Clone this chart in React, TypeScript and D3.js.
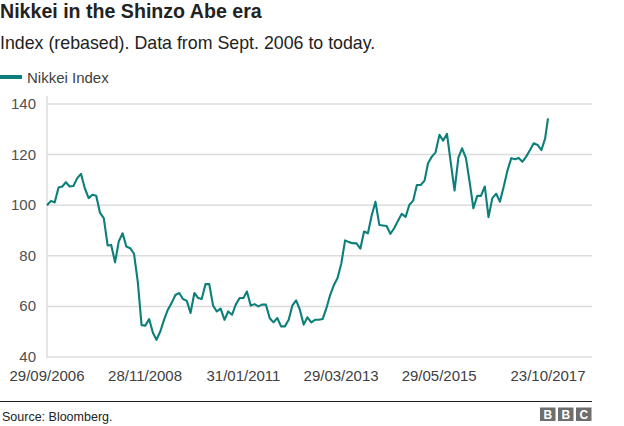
import React from "react";
import * as d3 from "d3";

const title = "Nikkei in the Shinzo Abe era";
const subtitle = "Index (rebased). Data from Sept. 2006 to today.";
const seriesName = "Nikkei Index";
const source = "Source: Bloomberg.";

// Monthly index values, Sept 2006 .. Oct 2017 (rebased to 100)
const nikkeiValues: number[] = [
  100.0, 101.7, 101.1, 107.0, 107.4, 109.1, 107.4, 107.6, 110.7, 112.4,
  106.7, 102.8, 104.1, 103.7, 97.1, 94.9, 84.1, 84.3, 77.4, 85.7,
  88.9, 83.7, 83.0, 80.8, 69.9, 52.6, 52.4, 55.0, 49.5, 46.8,
  50.1, 54.7, 58.7, 61.3, 64.5, 65.3, 62.9, 62.2, 57.4, 65.3,
  63.3, 62.9, 68.8, 68.8, 60.3, 58.0, 59.1, 54.7, 58.0, 56.7,
  60.7, 63.3, 63.3, 65.9, 60.3, 60.9, 60.0, 60.7, 60.7, 55.3,
  53.7, 55.4, 52.1, 52.1, 54.7, 60.3, 62.4, 58.7, 52.8, 55.7,
  53.7, 54.7, 54.7, 55.0, 59.3, 64.6, 68.6, 71.2, 77.1, 86.1,
  85.4, 85.0, 84.9, 82.8, 89.6, 88.9, 95.8, 101.4, 92.2, 92.0,
  91.8, 88.7, 90.9, 93.8, 96.6, 95.4, 100.1, 101.8, 108.0, 108.0,
  109.7, 116.6, 119.2, 120.9, 127.8, 125.5, 128.2, 116.6, 105.8, 118.8,
  122.5, 118.6, 108.7, 98.8, 103.7, 103.7, 107.4, 95.3, 102.8, 104.5,
  101.4, 107.4, 113.7, 118.6, 118.2, 118.7, 117.2, 119.2, 121.8, 124.5,
  123.8, 121.8, 126.4, 134.3,
];

const firstDate = new Date(2006, 8, 29);
const lastDate = new Date(2017, 9, 23);

// x tick dates and labels
const tickDates: Date[] = [
  new Date(2006, 8, 29),
  new Date(2008, 10, 28),
  new Date(2011, 0, 31),
  new Date(2013, 2, 29),
  new Date(2015, 4, 29),
  new Date(2017, 9, 23),
];
const tickLabels = ["29/09/2006", "28/11/2008", "31/01/2011", "29/03/2013", "29/05/2015", "23/10/2017"];
const yTicks = [40, 60, 80, 100, 120, 140];

const dates: Date[] = nikkeiValues.map((_, i) => {
  if (i === 0) return firstDate;
  if (i === nikkeiValues.length - 1) return lastDate;
  // last day of month
  return d3.timeDay.offset(d3.timeMonth.offset(new Date(2006, 9, 1), i), -1);
});

const W = 624;
const H = 426;
const FONT = "'Liberation Sans', Arial, Helvetica, sans-serif";
const TEAL = "#0d7f7a";

export default function App() {
  const x = d3.scaleTime().domain([firstDate, lastDate]).range([47, 548]);
  const y = d3.scaleLinear().domain([40, 140]).range([357, 104]);
  const line = d3
    .line<number>()
    .x((_, i) => x(dates[i]))
    .y((v) => y(v));

  return (
    <svg
      width={W}
      height={H}
      style={{ position: "absolute", left: 0, top: 0, background: "#fff" }}
      fontFamily={FONT}
    >
      <text x={0} y={17.5} fontSize={19.6} fontWeight="bold" fill="#222">
        {title}
      </text>
      <text x={0} y={48.5} fontSize={17.8} fill="#222">
        {subtitle}
      </text>
      <line x1={0} x2={22} y1={77} y2={77} stroke={TEAL} strokeWidth={4} />
      <text x={27} y={82.5} fontSize={15} fill="#404040">
        {seriesName}
      </text>

      {yTicks.map((t) => (
        <g key={t}>
          <line x1={47} x2={592} y1={y(t)} y2={y(t)} stroke="#dcdcdc" strokeWidth={1.5} />
          <text x={36} y={y(t) + 5} fontSize={15} fill="#505050" textAnchor="end">
            {t}
          </text>
        </g>
      ))}
      <line x1={47} x2={47} y1={96} y2={358} stroke="#dcdcdc" strokeWidth={1.5} />

      {tickDates.map((d, i) => (
        <text key={i} x={x(d)} y={381} fontSize={15} fill="#404040" textAnchor="middle">
          {tickLabels[i]}
        </text>
      ))}

      <path d={line(nikkeiValues) || ""} fill="none" stroke={TEAL} strokeWidth={2.1} strokeLinejoin="round" />

      <line x1={0} x2={592} y1={401.5} y2={401.5} stroke="#222" strokeWidth={1.2} />
      <text x={2} y={421} fontSize={12.5} fill="#222">
        {source}
      </text>
      {["B", "B", "C"].map((c, i) => (
        <g key={i}>
          <rect x={540 + i * 18} y={407.5} width={15.5} height={13.5} fill="#6e6e6e" />
          <text x={540 + i * 18 + 7.75} y={419} fontSize={12} fontWeight="bold" fill="#fff" textAnchor="middle">
            {c}
          </text>
        </g>
      ))}
    </svg>
  );
}
